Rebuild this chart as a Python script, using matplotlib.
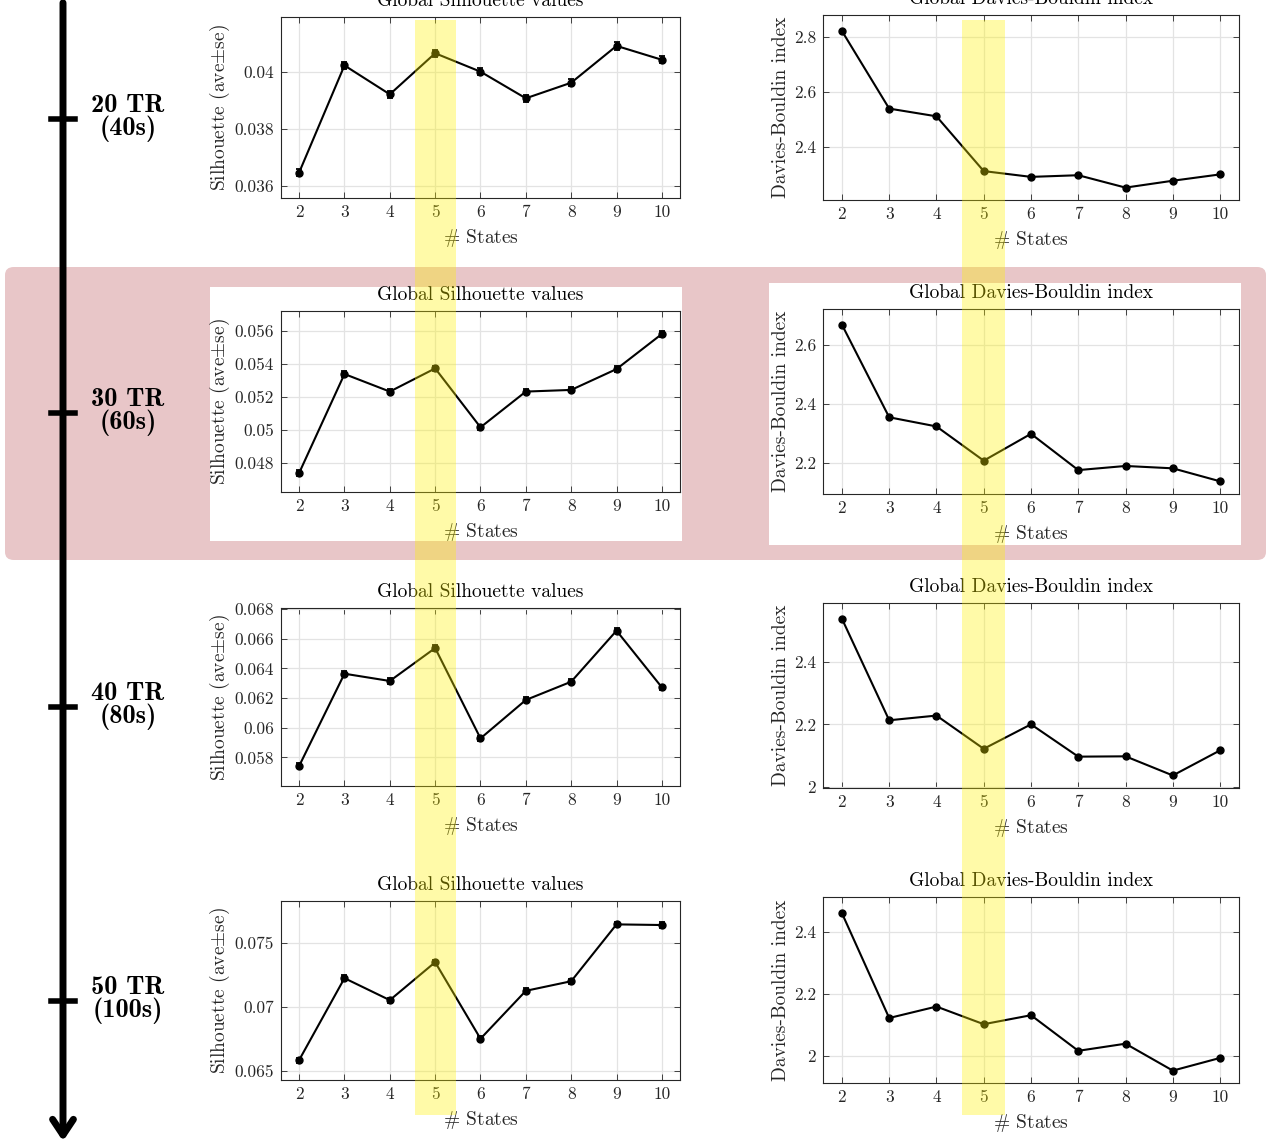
import matplotlib
matplotlib.use('Agg')
import matplotlib.pyplot as plt
from matplotlib.patches import FancyBboxPatch, Rectangle, FancyArrowPatch
from matplotlib.lines import Line2D
from matplotlib.transforms import blended_transform_factory

plt.rcParams['font.family'] = 'cmr10'
plt.rcParams['mathtext.fontset'] = 'cm'
plt.rcParams['axes.unicode_minus'] = False

# --- data ---
states = [2, 3, 4, 5, 6, 7, 8, 9, 10]
tr_labels = ['20 TR', '30 TR', '40 TR', '50 TR']
sec_labels = ['(40s)', '(60s)', '(80s)', '(100s)']

sil_20 = [0.03646, 0.04024, 0.03922, 0.04067, 0.04002, 0.03908, 0.03963, 0.04093, 0.04044]
sil_30 = [0.04740, 0.05338, 0.05232, 0.05372, 0.05016, 0.05232, 0.05242, 0.05368, 0.05580]
sil_40 = [0.05742, 0.06364, 0.06315, 0.06537, 0.05928, 0.06187, 0.06310, 0.06654, 0.06272]
sil_50 = [0.06586, 0.07227, 0.07055, 0.07352, 0.06753, 0.07128, 0.07203, 0.07648, 0.07643]

se_20 = [0.00013, 0.00013, 0.00012, 0.00013, 0.00013, 0.00012, 0.00012, 0.00013, 0.00013]
se_30 = [0.00016, 0.00016, 0.00015, 0.00016, 0.00015, 0.00015, 0.00015, 0.00016, 0.00016]
se_40 = [0.00017, 0.00018, 0.00017, 0.00018, 0.00017, 0.00017, 0.00017, 0.00018, 0.00017]
se_50 = [0.00020, 0.00021, 0.00020, 0.00021, 0.00020, 0.00020, 0.00020, 0.00021, 0.00021]

db_20 = [2.822, 2.540, 2.512, 2.313, 2.292, 2.298, 2.253, 2.278, 2.301]
db_30 = [2.668, 2.354, 2.323, 2.207, 2.298, 2.175, 2.189, 2.181, 2.137]
db_40 = [2.537, 2.213, 2.228, 2.122, 2.200, 2.097, 2.098, 2.037, 2.117]
db_50 = [2.462, 2.123, 2.160, 2.103, 2.132, 2.017, 2.040, 1.953, 1.994]

sil_ticks = [[0.036, 0.038, 0.040],
             [0.048, 0.050, 0.052, 0.054, 0.056],
             [0.058, 0.060, 0.062, 0.064, 0.066, 0.068],
             [0.065, 0.070, 0.075]]
sil_ticklabels = [['0.036', '0.038', '0.04'],
                  ['0.048', '0.05', '0.052', '0.054', '0.056'],
                  ['0.058', '0.06', '0.062', '0.064', '0.066', '0.068'],
                  ['0.065', '0.07', '0.075']]
sil_ylims = [(0.03556, 0.04195), (0.04625, 0.05719), (0.05607, 0.06807), (0.06430, 0.07831)]

db_ticks = [[2.4, 2.6, 2.8], [2.2, 2.4, 2.6], [2.0, 2.2, 2.4], [2.0, 2.2, 2.4]]
db_ticklabels = [['2.4', '2.6', '2.8'], ['2.2', '2.4', '2.6'], ['2', '2.2', '2.4'], ['2', '2.2', '2.4']]
db_ylims = [(2.208, 2.880), (2.094, 2.721), (1.997, 2.587), (1.913, 2.514)]

best_k = 5

sil_rows = [sil_20, sil_30, sil_40, sil_50]
se_rows = [se_20, se_30, se_40, se_50]
db_rows = [db_20, db_30, db_40, db_50]

# --- layout (pixels) ---
W, H = 1268, 1146
fig = plt.figure(figsize=(W / 100, H / 100), dpi=100)


def px_box(l, t, r, b):
    return [l / W, 1 - b / H, (r - l) / W, (b - t) / H]


left_rows = [(17, 198), (311, 492), (608, 786), (901, 1080)]
right_rows = [(15, 200), (309, 494), (603, 788), (897, 1083)]
tick_y = [119, 413, 707, 1001]

axis_col = '#262626'


def style(ax):
    ax.set_xlim(1.6, 10.4)
    ax.set_xticks(states)
    ax.set_xticklabels([str(s) for s in states])
    ax.grid(True, color='#e3e3e3', lw=0.9)
    ax.set_axisbelow(True)
    for sp in ax.spines.values():
        sp.set_color(axis_col)
        sp.set_linewidth(0.8)
    ax.tick_params(direction='in', top=True, right=True, length=4, width=0.6,
                   colors=axis_col, labelsize=12.5, pad=5)
    ax.set_xlabel(r'$\#$ States', fontsize=14, color=axis_col, labelpad=5)


# highlight box for the 30 TR row
fig.add_artist(FancyBboxPatch((5 / W, 1 - 560 / H), 1261 / W, 293 / H,
                              boxstyle='round,pad=0,rounding_size=0.007',
                              transform=fig.transFigure, fc='#e8c6c8', ec='none', zorder=-3))
fig.add_artist(Rectangle((210 / W, 1 - 541 / H), 472 / W, 254 / H,
                         transform=fig.transFigure, fc='white', ec='none', zorder=-2))
fig.add_artist(Rectangle((769 / W, 1 - 545 / H), 472 / W, 262 / H,
                         transform=fig.transFigure, fc='white', ec='none', zorder=-2))

axes_l, axes_r = [], []
for i in range(4):
    ax = fig.add_axes(px_box(281, left_rows[i][0], 680, left_rows[i][1]))
    style(ax)
    ax.errorbar(states, sil_rows[i], yerr=se_rows[i], color='k', lw=1.5,
                marker='o', ms=5, capsize=2.5, elinewidth=1.3, capthick=1.3)
    ax.set_ylim(*sil_ylims[i])
    ax.set_yticks(sil_ticks[i])
    ax.set_yticklabels(sil_ticklabels[i])
    ax.set_title('Global Silhouette values', fontsize=14, pad=8)
    ax.set_ylabel(r'Silhouette (ave$\pm$se)', fontsize=14, color=axis_col, labelpad=2)
    axes_l.append(ax)

    ax = fig.add_axes(px_box(823, right_rows[i][0], 1239, right_rows[i][1]))
    style(ax)
    ax.plot(states, db_rows[i], color='k', lw=1.5, marker='o', ms=5)
    ax.set_ylim(*db_ylims[i])
    ax.set_yticks(db_ticks[i])
    ax.set_yticklabels(db_ticklabels[i])
    ax.set_title('Global Davies-Bouldin index', fontsize=14, pad=8)
    ax.set_ylabel('Davies-Bouldin index', fontsize=14, color=axis_col, labelpad=3)
    axes_r.append(ax)

# yellow band marking the chosen number of states, across all rows
for ax in (axes_l[0], axes_r[0]):
    tr = blended_transform_factory(ax.transData, fig.transFigure)
    fig.add_artist(Rectangle((best_k - 0.45, 1 - 1115 / H), 0.9, (1115 - 20) / H,
                             transform=tr, fc='#fff200', ec='none', alpha=0.34, zorder=5))

# timeline arrow on the left
fig.add_artist(FancyArrowPatch((63 / W, 1.0), (63 / W, 1 - 1144 / H),
                               transform=fig.transFigure,
                               arrowstyle='->,head_length=0.45,head_width=0.3',
                               mutation_scale=25, lw=5, color='k', zorder=4))
for y, tr_lab, sec_lab in zip(tick_y, tr_labels, sec_labels):
    fig.add_artist(Line2D([51 / W, 75 / W], [1 - y / H, 1 - y / H],
                          transform=fig.transFigure, color='k', lw=4, zorder=4))
    fig.text(128 / W, 1 - (y - 1) / H, tr_lab + '\n' + sec_lab,
             family='cmb10', ha='center', va='center', fontsize=19, linespacing=0.95)

fig.savefig('out.png', dpi=100)
